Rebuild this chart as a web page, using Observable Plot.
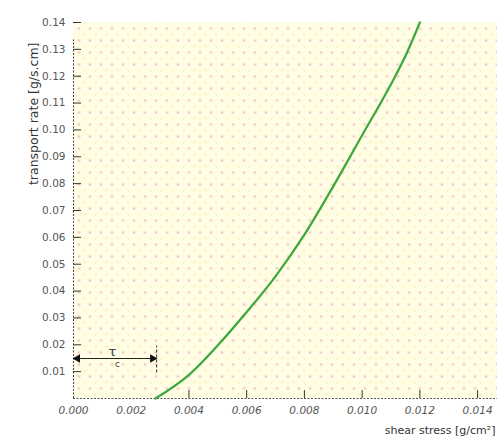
<!DOCTYPE html>
<html><head><meta charset="utf-8">
<script src="https://cdn.jsdelivr.net/npm/d3@7"></script>
<script src="https://cdn.jsdelivr.net/npm/@observablehq/plot@0.6"></script>
<style>
body{margin:0;background:#fff;}
#chart{position:relative;width:497px;height:444px;}
svg text{font-family:"DejaVu Sans",sans-serif;}
</style></head><body><div id="chart"></div>
<script>
// curve: shear stress vs transport rate
const shear = [0.00284, 0.0040, 0.0050, 0.0060, 0.0070, 0.0080, 0.0090, 0.0100, 0.0110, 0.0115, 0.0120];
const rate  = [0.0,     0.0088, 0.0198, 0.0322, 0.0455, 0.0610, 0.0790, 0.0980, 0.1170, 0.1275, 0.1400];
const xTicks = [0, 0.002, 0.004, 0.006, 0.008, 0.010, 0.012, 0.014];
const yTicks = [0.01,0.02,0.03,0.04,0.05,0.06,0.07,0.08,0.09,0.10,0.11,0.12,0.13,0.14];
const tauC = 0.00288;     // critical shear stress
const tauY = 0.0149;      // annotation height
const xTitle = "shear stress [g/cm²]";
const yTitle = "transport rate [g/s.cm]";

const data = shear.map((s,i)=>({s, r: rate[i]}));
const W = 497, H = 444;
const chart = Plot.plot({
  width: W, height: H,
  marginLeft: 73, marginTop: 22, marginBottom: 46, marginRight: 0,
  x: {domain: [0, 0.01469]},
  y: {domain: [0, 0.14]},
  style: {background: "transparent", fontSize: "10px", color: "#444"},
  marks: [
    Plot.frame({fill: "url(#dots)", stroke: null}),
    Plot.axisX({ticks: xTicks, tickSize: 0, tickPadding: 8, tickFormat: d3.format(".3f"), label: null, fill: "#555", fontStyle: "italic", fontSize: 10.5}),
    Plot.axisX({ticks: xTicks.slice(2), tickSize: 8, dy: -8, text: null, label: null, stroke: "#333"}),
    Plot.axisY({ticks: yTicks, tickSize: 0, tickPadding: 8, tickFormat: d3.format(".2f"), label: null, fill: "#555", fontSize: 10.5}),
    Plot.axisY({ticks: yTicks, tickSize: 8, dx: 8, text: null, label: null, stroke: "#333"}),
    Plot.ruleY([0], {stroke: "#555", strokeDasharray: "2,1.5"}),
    Plot.ruleX([0], {y1: 0, y2: 0.1335, stroke: "#444", strokeDasharray: "2,1.5"}),
    Plot.line(data, {x: "s", y: "r", stroke: "#3aa83a", strokeWidth: 2.2, curve: "monotone-x"}),
    Plot.ruleY([tauY], {x1: 0, x2: tauC, stroke: "#222", strokeWidth: 1.2}),
    Plot.dot([0], {x: 0, y: tauY, dx: 4, symbol: "triangle", rotate: -90, r: 3.2, fill: "#111", stroke: null}),
    Plot.dot([0], {x: tauC, y: tauY, dx: -4, symbol: "triangle", rotate: 90, r: 3.2, fill: "#111", stroke: null}),
    Plot.ruleX([tauC], {y1: 0.0095, y2: 0.0195, stroke: "#333", strokeDasharray: "3,2"}),
    Plot.text(["τ"], {x: () => 0.00135, y: () => tauY, dy: -7, fontSize: 13, fill: "#444"}),
    Plot.text(["c"], {x: () => 0.00135, y: () => tauY, dx: 5, dy: 6, fontSize: 9, fill: "#444"}),
    Plot.text([xTitle], {frameAnchor: "bottom-right", dy: 35, dx: -2, textAnchor: "end", fontSize: 11, fill: "#333"}),
    Plot.text([yTitle], {frameAnchor: "top-left", dx: -44, dy: 20, rotate: -90, textAnchor: "end", fontSize: 12.5, fill: "#333"})
  ]
});
const ns = "http://www.w3.org/2000/svg";
const defs = document.createElementNS(ns, "defs");
defs.innerHTML = `<pattern id="dots" width="11" height="12" patternUnits="userSpaceOnUse" x="73" y="22">
<rect width="11" height="12" fill="#fffde3"/>
<circle cx="5.5" cy="6" r="1.2" fill="#f4b8c2"/>
<circle cx="0" cy="0" r="1" fill="#f8eca8"/>
<circle cx="11" cy="0" r="1" fill="#f8eca8"/>
<circle cx="0" cy="12" r="1" fill="#f8eca8"/>
<circle cx="11" cy="12" r="1" fill="#f8eca8"/>
</pattern>`;
chart.insertBefore(defs, chart.firstChild);
document.getElementById("chart").appendChild(chart);
</script></body></html>
